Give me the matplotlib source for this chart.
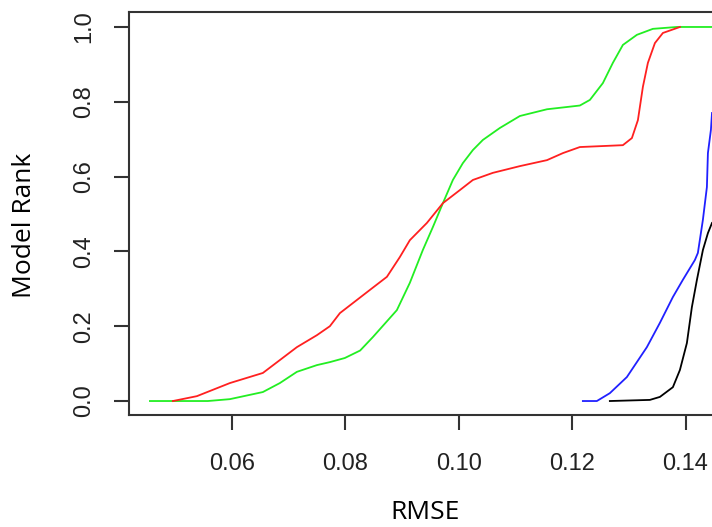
import matplotlib
matplotlib.use("Agg")
import matplotlib.pyplot as plt

plt.rcParams["font.family"] = ["Liberation Sans", "DejaVu Sans"]

# RMSE vs model rank curves
green_x = [0.04552, 0.05574, 0.05962, 0.06544, 0.06844, 0.07144, 0.07497, 0.07726,
           0.0799, 0.0826, 0.08485, 0.08908, 0.09137, 0.09367, 0.09543, 0.0972,
           0.09896, 0.10072, 0.10249, 0.10425, 0.10725, 0.11078, 0.11556, 0.12136,
           0.12313, 0.12542, 0.12718, 0.12895, 0.13142, 0.13424, 0.13847, 0.14467]
green_y = [0.0, 0.0, 0.005, 0.024, 0.048, 0.078, 0.096, 0.104,
           0.115, 0.135, 0.171, 0.243, 0.316, 0.404, 0.465, 0.529,
           0.591, 0.636, 0.671, 0.698, 0.730, 0.762, 0.780, 0.790,
           0.805, 0.850, 0.904, 0.952, 0.979, 0.995, 1.0, 1.0]

red_x = [0.04957, 0.0538, 0.05962, 0.06544, 0.07144, 0.07497, 0.07726, 0.07903,
         0.08432, 0.08732, 0.08961, 0.09137, 0.09437, 0.0972, 0.1002, 0.10249,
         0.10601, 0.11078, 0.11556, 0.11840, 0.12136, 0.12895, 0.13054, 0.1316,
         0.13248, 0.13336, 0.1346, 0.13601, 0.13901]
red_y = [0.0, 0.013, 0.048, 0.075, 0.144, 0.176, 0.20, 0.235,
         0.297, 0.332, 0.385, 0.430, 0.476, 0.529, 0.564, 0.591,
         0.610, 0.628, 0.644, 0.663, 0.679, 0.684, 0.703, 0.751,
         0.840, 0.904, 0.957, 0.984, 1.0]

blue_x = [0.12189, 0.12436, 0.12665, 0.12965, 0.13318, 0.13548, 0.13777, 0.13953,
          0.14165, 0.14218, 0.14306, 0.14377, 0.14395, 0.14448, 0.14467]
blue_y = [0.0, 0.0, 0.021, 0.064, 0.144, 0.209, 0.278, 0.324,
          0.377, 0.396, 0.484, 0.572, 0.663, 0.725, 0.770]

black_x = [0.12665, 0.13371, 0.13548, 0.13777, 0.13901, 0.14024, 0.14112, 0.14201,
           0.14307, 0.14395, 0.14467]
black_y = [0.0, 0.003, 0.011, 0.037, 0.083, 0.155, 0.251, 0.324,
           0.404, 0.449, 0.476]

x_ticks = [0.06, 0.08, 0.10, 0.12, 0.14]
y_ticks = [0.0, 0.2, 0.4, 0.6, 0.8, 1.0]

fig = plt.figure(figsize=(7.12, 5.27), dpi=100)
ax = fig.add_axes([0.1816, 0.2125, 1 - 0.1816, 0.7647])

ax.plot(green_x, green_y, color="#22ee22", lw=1.3)
ax.plot(red_x, red_y, color="#ff2020", lw=1.3)
ax.plot(blue_x, blue_y, color="#2020ff", lw=1.3)
ax.plot(black_x, black_y, color="black", lw=1.3)

ax.set_xlim(0.04188, 0.14467)
ax.set_ylim(-0.0374, 1.040)

ax.set_xticks(x_ticks)
ax.set_xticklabels(["%.2f" % v for v in x_ticks])
ax.set_yticks(y_ticks)
ax.set_yticklabels(["%.1f" % v for v in y_ticks], rotation=90, va="center")

for s in ["left", "top", "bottom"]:
    ax.spines[s].set_linewidth(1.5)
    ax.spines[s].set_color("#333333")
ax.spines["right"].set_visible(False)

ax.tick_params(axis="both", length=10.5, width=1.5, color="#333333",
               labelsize=17, labelcolor="#222222")
ax.tick_params(axis="y", pad=14)
ax.tick_params(axis="x", pad=17)

fig.text(0.034, 0.573, "Model Rank", rotation=90, ha="center", va="center",
         fontsize=19, family="Open Sans")
fig.text(0.597, 0.028, "RMSE", ha="center", va="center",
         fontsize=19, family="Open Sans")

fig.savefig("out.png", dpi=100)
